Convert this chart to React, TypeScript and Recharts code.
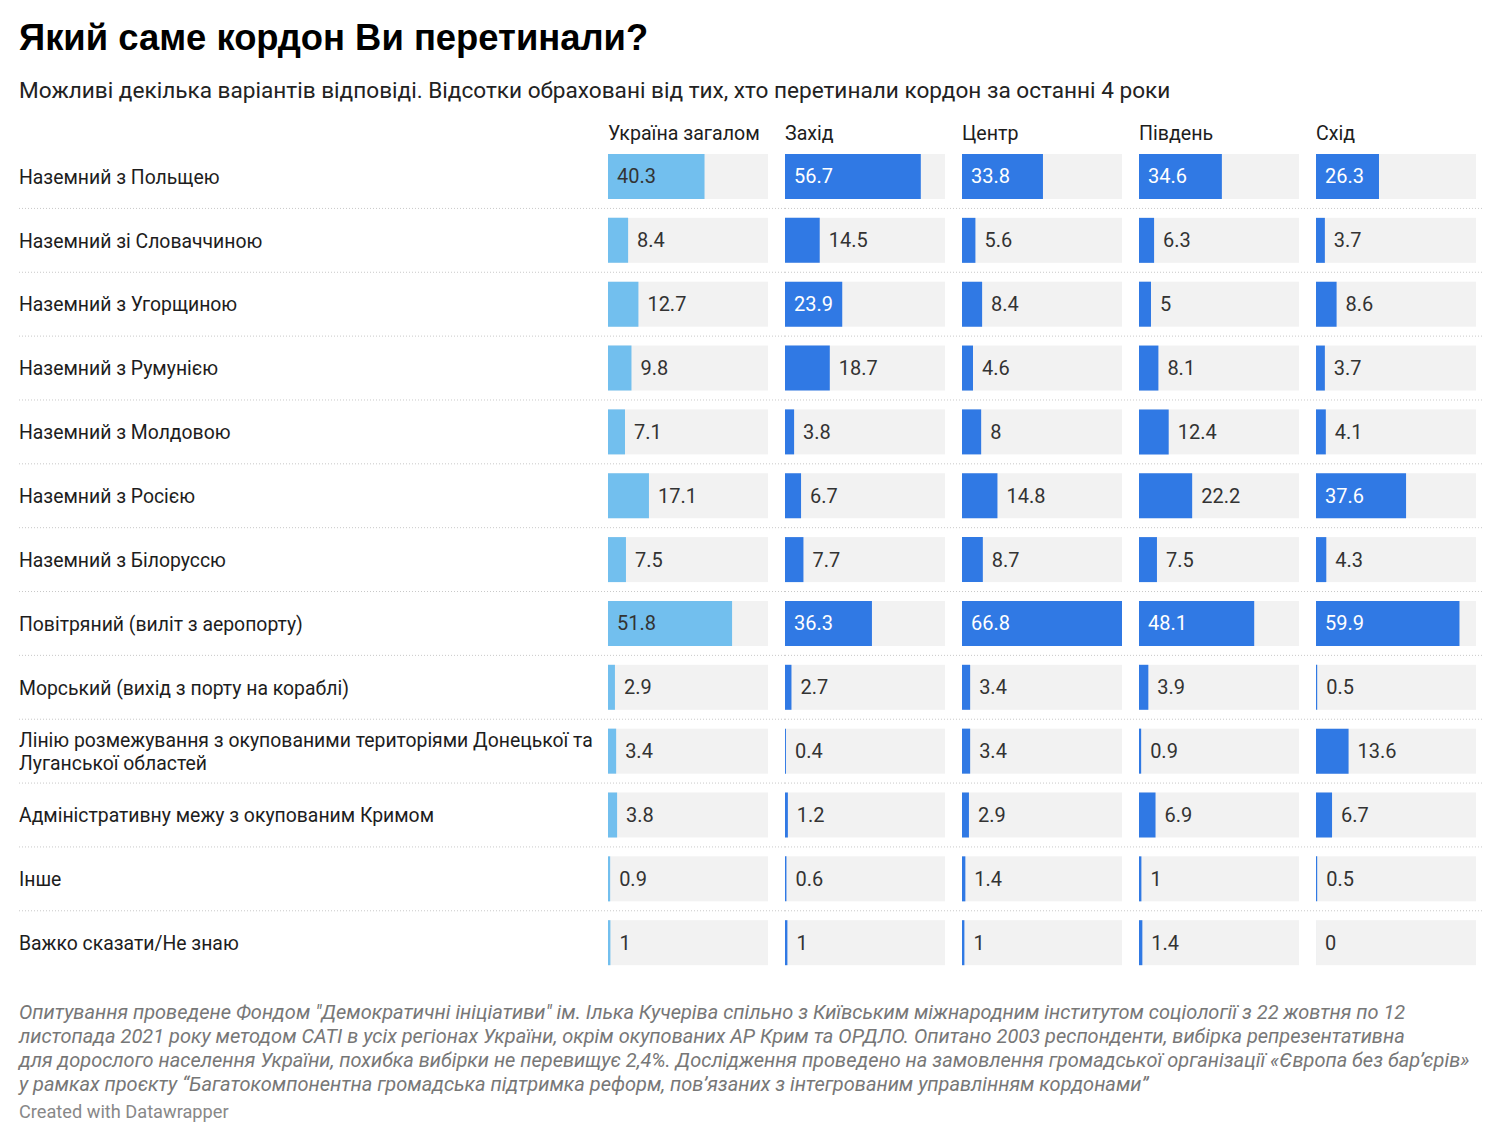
import React from "react";
import { Bar, BarChart, LabelList, XAxis, YAxis } from "recharts";

const categories = [
  "Наземний з Польщею",
  "Наземний зі Словаччиною",
  "Наземний з Угорщиною",
  "Наземний з Румунією",
  "Наземний з Молдовою",
  "Наземний з Росією",
  "Наземний з Білоруссю",
  "Повітряний (виліт з аеропорту)",
  "Морський (вихід з порту на кораблі)",
  "Лінію розмежування з окупованими територіями Донецької та Луганської областей",
  "Адміністративну межу з окупованим Кримом",
  "Інше",
  "Важко сказати/Не знаю",
];

const regions = ["Україна загалом", "Захід", "Центр", "Південь", "Схід"];

const ukraine = [40.3, 8.4, 12.7, 9.8, 7.1, 17.1, 7.5, 51.8, 2.9, 3.4, 3.8, 0.9, 1];
const west = [56.7, 14.5, 23.9, 18.7, 3.8, 6.7, 7.7, 36.3, 2.7, 0.4, 1.2, 0.6, 1];
const center = [33.8, 5.6, 8.4, 4.6, 8, 14.8, 8.7, 66.8, 3.4, 3.4, 2.9, 1.4, 1];
const south = [34.6, 6.3, 5, 8.1, 12.4, 22.2, 7.5, 48.1, 3.9, 0.9, 6.9, 1, 1.4];
const east = [26.3, 3.7, 8.6, 3.7, 4.1, 37.6, 4.3, 59.9, 0.5, 13.6, 6.7, 0.5, 0];

const seriesList = [ukraine, west, center, south, east];

const TITLE = "Який саме кордон Ви перетинали?";
const SUBTITLE =
  "Можливі декілька варіантів відповіді. Відсотки обраховані від тих, хто перетинали кордон за останні 4 роки";
const NOTES = [
  "Опитування проведене Фондом \"Демократичні ініціативи\" ім. Ілька Кучеріва спільно з Київським міжнародним інститутом соціології з 22 жовтня по 12",
  "листопада 2021 року методом CATI в усіх регіонах України, окрім окупованих АР Крим та ОРДЛО. Опитано 2003 респонденти, вибірка репрезентативна",
  "для дорослого населення України, похибка вибірки не перевищує 2,4%. Дослідження проведено на замовлення громадської організації «Європа без бар’єрів»",
  "у рамках проєкту “Багатокомпонентна громадська підтримка реформ, пов’язаних з інтегрованим управлінням кордонами”",
];

const FONT = "Roboto, 'Noto Sans', sans-serif";
const LIGHT = "#72bfee";
const BLUE = "#3079e4";
const BG = "#f2f2f2";
const TEXT = "#1d1d1d";

const LABEL_W = 589;
const PLOT_W = 160;
const GAP = 17;
const ROW_H = 63.85;
const BAR_H = 45;
const CHART_H = ROW_H * categories.length;
const MAX = Math.max(...seriesList.flat());
const INSIDE_MIN = 23;

function wrap(text: string, maxChars: number): string[] {
  const words = text.split(" ");
  const lines: string[] = [];
  let cur = "";
  for (const w of words) {
    const next = cur ? cur + " " + w : w;
    if (next.length > maxChars && cur) {
      lines.push(cur);
      cur = w;
    } else cur = next;
  }
  if (cur) lines.push(cur);
  return lines;
}

function RowTick(props: any) {
  const { y, payload } = props;
  const lines = wrap(String(payload.value), 58);
  const lh = 23;
  const y0 = y - ((lines.length - 1) * lh) / 2;
  return (
    <text x={0} y={y0} dy="0.35em" fontFamily={FONT} fontSize={19.4} fill={TEXT}>
      {lines.map((l, i) => (
        <tspan key={i} x={0} y={y0 + i * lh} dy="0.35em">
          {l}
        </tspan>
      ))}
    </text>
  );
}

function makeBackground(leftExtra: number, rightExtra: number) {
  return (p: any) => {
    const { x, y, width, height, index } = p;
    const lineY = y + height + (ROW_H - BAR_H) / 2;
    return (
      <g>
        <rect x={x} y={y} width={width} height={height} fill={BG} />
        {index < categories.length - 1 && (
          <line
            x1={x - leftExtra}
            x2={x + width + rightExtra}
            y1={lineY}
            y2={lineY}
            stroke="#c8c8c8"
            strokeWidth={1}
            strokeDasharray="1 2"
          />
        )}
      </g>
    );
  };
}

function makeValueLabel(insideColor: string) {
  return (p: any) => {
    const { x, y, width, height, value } = p;
    const inside = value >= INSIDE_MIN;
    return (
      <text
        x={inside ? x + 9 : x + width + 9}
        y={y + height / 2}
        dy="0.35em"
        fontFamily={FONT}
        fontSize={20}
        fill={inside ? insideColor : "#333"}
      >
        {String(value)}
      </text>
    );
  };
}

function Column({ idx }: { idx: number }) {
  const first = idx === 0;
  const last = idx === regions.length - 1;
  const right = last ? 6 : GAP;
  const left = first ? LABEL_W : 0;
  const data = categories.map((c, i) => ({ label: c, value: seriesList[idx][i] }));
  const color = first ? LIGHT : BLUE;
  return (
    <div style={{ width: left + PLOT_W + right, flex: "none" }}>
      <div
        style={{
          marginLeft: left,
          height: 24,
          lineHeight: "24px",
          fontFamily: FONT,
          fontSize: 19.6,
          color: TEXT,
          whiteSpace: "nowrap",
        }}
      >
        {regions[idx]}
      </div>
      <BarChart
        width={left + PLOT_W + right}
        height={CHART_H}
        data={data}
        layout="vertical"
        margin={{ top: -1, right, bottom: 1, left: 0 }}
        barSize={BAR_H}
      >
        <XAxis type="number" domain={[0, MAX]} hide />
        <YAxis
          type="category"
          dataKey="label"
          width={left}
          hide={!first}
          axisLine={false}
          tickLine={false}
          tick={<RowTick />}
          interval={0}
        />
        <Bar
          dataKey="value"
          fill={color}
          isAnimationActive={false}
          minPointSize={0.01}
          background={makeBackground(first ? LABEL_W : 0, right)}
        >
          <LabelList dataKey="value" content={makeValueLabel(first ? "#333" : "#fff")} />
        </Bar>
      </BarChart>
    </div>
  );
}

export default function App() {
  return (
    <div style={{ width: 1484, paddingLeft: 11, boxSizing: "border-box", fontFamily: FONT }}>
      <div
        style={{
          fontFamily: "'Liberation Sans', Arial, sans-serif",
          fontWeight: 700,
          fontSize: 36.4,
          color: "#000",
          paddingTop: 8,
          height: 44,
          lineHeight: "44px",
        }}
      >
        {TITLE}
      </div>
      <div
        style={{
          fontSize: 22.6,
          color: "#222",
          marginTop: 16,
          height: 30,
          lineHeight: "30px",
          whiteSpace: "nowrap",
        }}
      >
        {SUBTITLE}
      </div>
      <div style={{ display: "flex", marginTop: 16 }}>
        {regions.map((_, i) => (
          <Column key={i} idx={i} />
        ))}
      </div>
      <div
        style={{
          marginTop: 24,
          fontStyle: "italic",
          fontSize: 20,
          lineHeight: "24px",
          color: "#777",
        }}
      >
        {NOTES.map((n, i) => (
          <div key={i} style={{ whiteSpace: "nowrap" }}>
            {n}
          </div>
        ))}
      </div>
      <div style={{ fontSize: 18.2, color: "#888", marginTop: 4, lineHeight: "24px" }}>
        Created with Datawrapper
      </div>
    </div>
  );
}
